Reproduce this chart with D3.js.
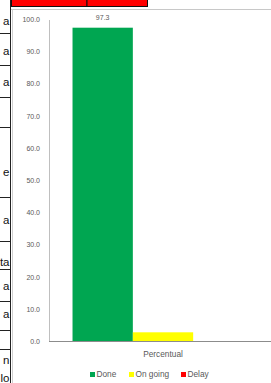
<!DOCTYPE html>
<html>
<head>
<meta charset="utf-8">
<script src="https://cdn.jsdelivr.net/npm/d3@7"></script>
<style>
html,body{margin:0;padding:0;background:#fff;overflow:hidden;}
svg{display:block;}
</style>
</head>
<body>
<svg id="c" width="271" height="383"></svg>
<script>
// ---- data ----
const categories = ["Percentual"];
const seriesNames = ["Done", "On going", "Delay"];
const seriesValues = [97.3, 2.7, 0];
const seriesColors = ["#00a651", "#ffff00", "#ff0000"];
const valueLabels = ["97.3", null, null];
const yTicks = [0, 10, 20, 30, 40, 50, 60, 70, 80, 90, 100];
// fragments of the neighbouring spreadsheet table (left, clipped)
const sideTexts = ["a", "a", "a", "e", "a", "ta", "a", "a", "n", "lo"];
const sideTextY = [25, 55, 86, 176, 224, 266, 290, 318, 364, 382];
const sideRules = [33, 65, 97, 127, 197, 241, 269, 301, 330, 349];

const svg = d3.select("#c");
const font = "'Liberation Sans', Arial, sans-serif";

// ---- surrounding spreadsheet fragments ----
const cellX = d3.scaleLinear().domain([0, 1]).range([0, 10.5]);
svg.append("g").selectAll("line").data(sideRules).join("line")
  .attr("x1", cellX(0)).attr("x2", cellX(1))
  .attr("y1", d => d + 0.5).attr("y2", d => d + 0.5)
  .attr("stroke", "#222").attr("stroke-width", 1);
svg.append("line").attr("x1", 10.5).attr("x2", 10.5).attr("y1", 0).attr("y2", 383)
  .attr("stroke", "#222").attr("stroke-width", 1);
svg.append("g").selectAll("text").data(sideTexts).join("text")
  .attr("x", 9.5).attr("y", (d, i) => sideTextY[i])
  .attr("text-anchor", "end")
  .attr("font-family", font).attr("font-size", "11.5px").attr("fill", "#111")
  .text(d => d);

// red header cells at top
svg.append("rect").attr("x", 11.5).attr("y", -2).attr("width", 75.5).attr("height", 8.5)
  .attr("fill", "#ff0000").attr("stroke", "#111").attr("stroke-width", 1);
svg.append("rect").attr("x", 87).attr("y", -2).attr("width", 60.5).attr("height", 8.5)
  .attr("fill", "#ff0000").attr("stroke", "#111").attr("stroke-width", 1);

// chart area border
svg.append("line").attr("x1", 11).attr("x2", 271).attr("y1", 9.5).attr("y2", 9.5)
  .attr("stroke", "#c8c8c8");
svg.append("line").attr("x1", 12.5).attr("x2", 12.5).attr("y1", 9.5).attr("y2", 383)
  .attr("stroke", "#d0d0d0");

// ---- scales ----
const y = d3.scaleLinear().domain([0, 100]).range([341, 19]);
const x0 = d3.scaleBand().domain(categories).range([49, 277]).paddingInner(0).paddingOuter(0.13);
const x1 = d3.scaleBand().domain(seriesNames).range([0, x0.bandwidth()]).padding(0);

// y axis
const yAxis = d3.axisLeft(y).tickValues(yTicks).tickFormat(d3.format(".1f")).tickSize(0).tickPadding(9);
const gy = svg.append("g").attr("transform", "translate(49,0)").call(yAxis);
gy.select(".domain").attr("stroke", "#bfbfbf").attr("d", `M0.5,${y(100) + 1}V${y(0)}`);
gy.selectAll("text").attr("font-family", font).attr("font-size", "7px").attr("fill", "#595959")
  .attr("dy", "0.35em");

// bars
const g = svg.append("g");
categories.forEach(cat => {
  g.selectAll("rect.bar").data(seriesNames).join("rect").attr("class", "bar")
    .attr("x", s => x0(cat) + x1(s))
    .attr("width", x1.bandwidth())
    .attr("y", (s, i) => y(seriesValues[i]))
    .attr("height", (s, i) => y(0) - y(seriesValues[i]))
    .attr("fill", (s, i) => seriesColors[i]);
  g.selectAll("text.vl").data(seriesNames).join("text").attr("class", "vl")
    .filter((s, i) => valueLabels[i] !== null)
    .attr("x", s => x0(cat) + x1(s) + x1.bandwidth() / 2)
    .attr("y", (s) => y(seriesValues[seriesNames.indexOf(s)]) - 8)
    .attr("text-anchor", "middle")
    .attr("font-family", font).attr("font-size", "7px").attr("fill", "#595959")
    .text(s => valueLabels[seriesNames.indexOf(s)]);
});

// x axis baseline + category label
const xAxis = d3.axisBottom(x0).tickSize(0).tickPadding(10);
const gx = svg.append("g").attr("transform", `translate(0,${y(0)})`).call(xAxis);
gx.select(".domain").attr("stroke", "#8c8c8c").attr("d", `M49,0.5H271`);
gx.selectAll("text").attr("font-family", font).attr("font-size", "8.3px").attr("fill", "#595959");

// legend
const legendX = [90, 129, 181];
const lg = svg.append("g").selectAll("g").data(seriesNames).join("g")
  .attr("transform", (d, i) => `translate(${legendX[i]},372)`);
lg.append("rect").attr("width", 5).attr("height", 5).attr("fill", (d, i) => seriesColors[i]);
lg.append("text").attr("x", 6.5).attr("y", 5.3)
  .attr("font-family", font).attr("font-size", "8.3px").attr("fill", "#595959")
  .text(d => d);
</script>
</body>
</html>
